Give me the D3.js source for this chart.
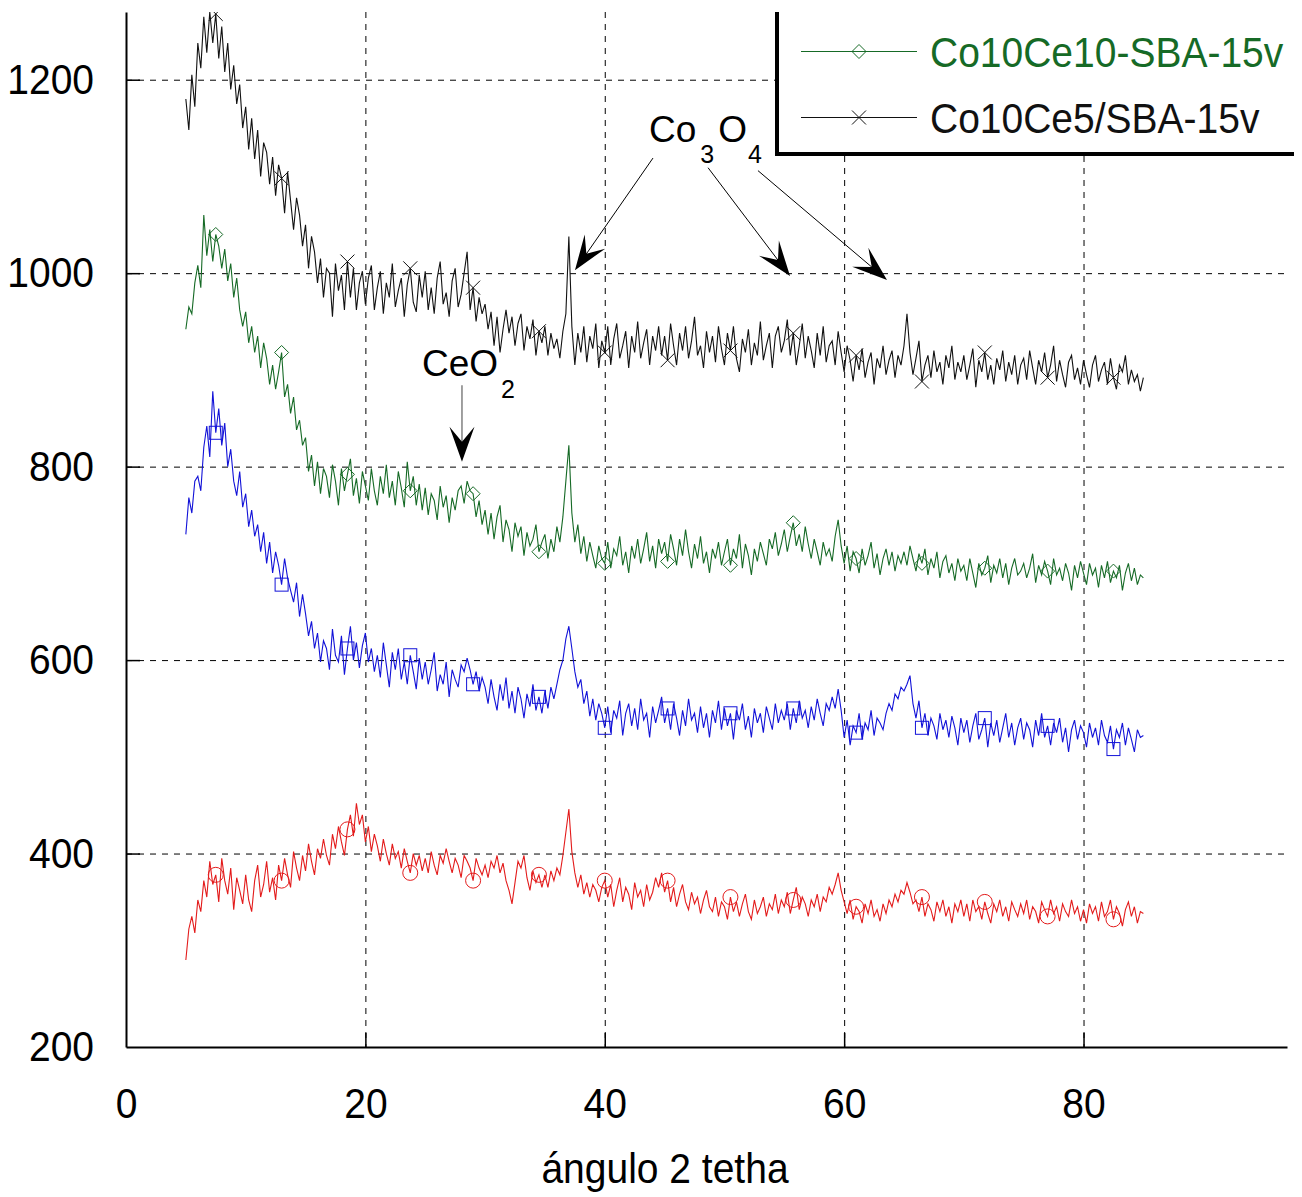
<!DOCTYPE html>
<html><head><meta charset="utf-8">
<script src="https://cdn.jsdelivr.net/npm/d3@7"></script>
<style>body{margin:0;background:#fff}svg{display:block}text{font-family:"Liberation Sans",Arial,sans-serif}</style>
</head><body>
<svg id="c" width="1302" height="1197"></svg>
<script>
// sampling of the 2-theta axis
const angleStart = 5, angleStep = 0.25;
const xTicks = [0, 20, 40, 60, 80];
const yTicks = [200, 400, 600, 800, 1000, 1200];
const legendLabels = ["Co10Ce10-SBA-15v", "Co10Ce5/SBA-15v"];
const markerAngles = [7.6, 13.0, 18.4, 23.8, 29.1, 34.5, 39.9, 45.2, 50.5, 55.8, 61.1, 66.4, 71.8, 77.1, 82.5];

const black = [
1180,1148,1205,1172,1238,1212,1265,1228,1270,1238,1268,1222,1255,1208,1238,1190,1215,1175,1195,1150,
1172,1128,1160,1118,1148,1100,1135,1125,1092,1120,1080,1112,1098,1062,1105,1075,1045,1078,1060,1028,
1050,1005,1038,1022,990,1015,975,1005,1000,955,1010,982,998,962,1012,975,1005,962,990,1002,
968,995,1008,962,985,1002,958,990,975,1010,965,982,995,955,988,1005,970,960,998,975,
1002,962,985,958,995,1012,968,980,955,992,1005,965,978,1000,1022,962,985,950,975,958,
968,942,960,925,955,918,942,962,938,955,925,948,958,920,945,932,952,915,940,928,
945,915,938,922,932,912,940,958,1038,945,905,938,918,945,908,935,922,948,902,930,
918,945,905,932,948,912,925,940,902,935,918,950,912,928,942,905,935,920,945,915,
935,910,948,925,905,938,920,945,912,930,955,915,925,902,940,918,935,908,945,922,
905,938,920,945,912,898,932,918,942,905,928,915,950,910,925,938,902,935,945,918,
930,952,915,938,905,925,948,912,935,920,902,938,915,945,908,925,930,905,940,918,
898,925,910,888,915,900,922,892,908,918,885,912,902,925,895,910,920,892,915,905,
925,958,918,895,912,930,888,905,915,892,920,898,908,885,915,902,925,890,908,898,
915,890,905,922,882,910,898,918,890,905,885,912,900,920,888,908,895,915,885,905,
912,890,920,902,885,910,898,918,892,905,925,888,910,895,882,908,915,890,902,885,
910,895,882,905,915,888,900,908,885,912,892,880,905,898,915,885,900,888,895,878,
892];

const green = [
942,965,958,990,1008,985,1060,1018,1045,1012,1040,1028,1005,1025,992,1010,975,995,962,945,
960,928,945,918,935,902,928,912,885,905,880,898,918,872,885,855,872,838,848,822,
830,795,812,780,805,772,798,790,768,802,785,760,798,775,792,808,770,788,762,795,
780,765,798,775,760,790,772,802,768,785,760,795,778,758,805,775,790,760,782,755,
778,750,772,765,745,780,758,770,742,768,755,775,780,762,785,775,772,748,765,740,
755,730,752,725,748,760,722,745,735,712,742,728,738,708,732,718,725,740,712,722,
730,705,725,712,738,722,748,785,822,752,722,740,710,728,702,722,708,695,718,705,
700,722,695,715,708,728,698,712,690,718,705,725,700,715,732,702,718,695,725,710,
722,702,730,715,698,725,708,735,712,695,720,705,728,700,712,690,715,705,722,698,
712,725,698,715,705,730,695,720,708,688,715,702,722,710,698,725,715,732,708,720,
735,712,728,742,718,730,712,738,720,705,725,712,698,722,708,715,702,728,745,718,
700,718,692,712,705,690,715,698,708,722,695,710,688,705,715,698,712,692,708,700,
712,698,718,705,692,710,700,715,688,705,695,712,685,702,708,690,700,682,705,692,
698,682,705,690,675,700,688,695,708,680,698,690,705,685,700,678,695,705,688,692,
700,685,695,710,680,698,688,702,692,678,705,688,695,682,700,690,672,698,685,702,
690,678,700,688,695,675,698,685,702,680,692,685,698,672,690,700,682,695,678,688,
685];

const blue = [
730,768,752,785,790,775,820,842,810,878,835,860,822,845,800,818,785,770,795,758,
772,738,755,728,740,712,732,700,722,690,712,698,678,705,685,672,660,680,645,668,
648,625,640,612,628,598,620,612,590,632,605,598,625,585,612,635,600,618,592,615,
628,598,612,588,605,582,618,595,572,608,590,612,580,598,575,605,588,570,602,580,
598,575,590,608,568,585,575,598,562,590,580,572,595,588,602,590,575,588,568,582,
572,555,580,562,548,575,558,582,550,568,545,572,560,540,565,552,575,548,562,545,
568,550,572,560,575,590,600,622,635,612,588,572,580,555,568,542,560,538,555,545,
530,552,525,548,540,558,522,545,555,532,550,528,560,538,545,520,552,535,548,562,
535,550,528,555,540,522,548,532,560,538,545,525,552,530,545,520,548,535,558,528,
550,532,545,518,548,538,555,528,542,520,550,535,545,525,552,540,528,555,535,548,
538,555,528,550,535,558,540,548,530,552,538,560,545,532,555,548,562,550,570,548,
520,538,512,532,525,545,518,535,528,548,522,540,535,528,545,555,548,565,560,572,
568,575,584,555,540,558,530,545,522,540,532,518,545,528,538,520,542,530,512,540,
525,538,515,532,545,518,528,540,510,535,522,538,515,530,545,520,535,512,530,540,
518,535,528,510,538,522,545,520,532,512,535,525,540,515,530,505,528,538,518,532,
525,510,535,520,530,512,538,522,515,532,508,528,520,535,512,530,518,505,528,520,
522];

const red = [
290,322,335,318,352,340,372,355,392,368,378,350,395,372,358,385,342,375,362,348,
378,352,340,372,388,355,368,392,360,375,352,388,372,395,378,365,402,385,372,398,
382,410,392,378,405,395,415,398,388,420,405,428,412,398,425,440,418,452,430,440,
412,428,402,420,408,392,415,400,388,410,395,402,385,405,392,380,400,388,398,382,
395,380,402,388,378,398,390,405,392,380,395,388,375,398,392,385,372,395,385,378,
388,375,392,385,398,380,390,372,362,348,370,392,385,398,375,362,382,370,378,365,
378,365,382,372,385,378,398,422,446,402,380,365,378,358,370,355,368,362,350,365,
372,355,368,345,362,375,350,365,358,342,370,355,362,345,368,352,360,375,365,380,
360,372,350,365,345,358,368,350,342,360,348,355,338,352,362,345,340,355,335,350,
345,332,355,340,350,335,348,358,340,332,352,338,345,355,335,348,342,358,338,352,
345,360,338,352,365,342,355,348,335,352,345,358,340,355,350,365,358,368,380,362,
350,338,352,332,345,340,328,348,338,352,335,342,330,348,338,352,345,358,350,362,
358,370,360,348,352,340,355,335,348,342,330,350,340,352,335,345,328,348,340,352,
335,348,330,352,340,345,332,350,338,328,348,340,352,335,345,330,350,342,335,348,
338,352,332,345,340,328,350,342,335,352,338,345,330,348,340,335,352,338,345,330,
342,328,348,338,345,330,350,335,340,352,332,345,338,325,342,350,335,345,328,340,
338];

const COL = {green:"#166a26", black:"#111111", blue:"#1212d8", red:"#e31b1b"};
const series = [
  {values: red,   color: COL.red,   marker: "circle"},
  {values: blue,  color: COL.blue,  marker: "square"},
  {values: green, color: COL.green, marker: "diamond"},
  {values: black, color: COL.black, marker: "x"}
];

const svg = d3.select("#c");
const x = d3.scaleLinear().domain([0, 97]).range([126, 1287]);
const y = d3.scaleLinear().domain([200, 1270]).range([1047, 12]);
const FS = 39, SY = 1.08;

svg.append("defs").append("clipPath").attr("id","plot")
  .append("rect").attr("x", x(0)).attr("y", y(1270)).attr("width", x(97)-x(0)).attr("height", y(200)-y(1270));

// grid
const grid = svg.append("g").attr("stroke","#000").attr("stroke-width",1).attr("stroke-dasharray","6,6");
grid.selectAll("line.h").data(yTicks.filter(d=>d>200)).join("line")
  .attr("x1", x(0)).attr("x2", x(97)).attr("y1", d=>y(d)+0.5).attr("y2", d=>y(d)+0.5);
grid.selectAll("line.v").data(xTicks.filter(d=>d>0)).join("line")
  .attr("x1", d=>x(d)+0.5).attr("x2", d=>x(d)+0.5).attr("y1", y(1270)).attr("y2", y(200));

// series
const angleOf = i => angleStart + i*angleStep;
const line = d3.line().x((d,i)=>x(angleOf(i))).y(d=>y(d));
const plot = svg.append("g").attr("clip-path","url(#plot)");
series.forEach(s => {
  plot.append("path").attr("d", line(s.values)).attr("fill","none")
    .attr("stroke", s.color).attr("stroke-width",1.1).attr("stroke-linejoin","miter");
});

function drawMarker(g, type, cx, cy, color) {
  if (type === "circle") g.append("circle").attr("cx",cx).attr("cy",cy).attr("r",7.5).attr("fill","none").attr("stroke",color).attr("stroke-width",1);
  else if (type === "square") g.append("rect").attr("x",cx-6.5).attr("y",cy-6.5).attr("width",13).attr("height",13).attr("fill","none").attr("stroke",color).attr("stroke-width",1);
  else if (type === "diamond") g.append("path").attr("d",`M${cx},${cy-7}L${cx+7},${cy}L${cx},${cy+7}L${cx-7},${cy}Z`).attr("fill","none").attr("stroke",color).attr("stroke-width",1);
  else g.append("path").attr("d",`M${cx-7},${cy-7}L${cx+7},${cy+7}M${cx-7},${cy+7}L${cx+7},${cy-7}`).attr("fill","none").attr("stroke",color).attr("stroke-width",1);
}
series.forEach(s => {
  markerAngles.forEach(a => {
    const i = Math.round((a - angleStart)/angleStep);
    drawMarker(plot, s.marker, x(angleOf(i)), y(s.values[i]), s.color);
  });
});

// axes
const ya = svg.append("g").attr("transform",`translate(${x(0)},0)`)
  .call(d3.axisLeft(y).tickValues(yTicks).tickSizeInner(-14).tickSizeOuter(0).tickPadding(32).tickFormat(d3.format("d")));
const xa = svg.append("g").attr("transform",`translate(0,${y(200)})`)
  .call(d3.axisBottom(x).tickValues(xTicks).tickSizeInner(-14).tickSizeOuter(0).tickPadding(38).tickFormat(d3.format("d")));
[ya, xa].forEach(a => {
  a.select(".domain").attr("stroke","#000").attr("stroke-width",2);
  a.selectAll(".tick line").attr("stroke","#000").attr("stroke-width",1.5);
  a.selectAll(".tick text").attr("fill","#000").style("font-size", FS+"px").attr("transform",`scale(1,${SY})`);
});
ya.selectAll(".tick").filter(d=>d===200).select("line").remove();
xa.selectAll(".tick").filter(d=>d===0).select("line").remove();

// axis title
svg.append("text").attr("transform",`translate(665,1183) scale(1,${SY})`).attr("text-anchor","middle")
  .style("font-size",FS+"px").attr("fill","#000").text("ángulo 2 tetha");

// annotations (positions in data units)
function arrowHead(tx, ty, ux, uy, L, Wd, notch) {
  const px = -uy, py = ux;
  const bx = tx - ux*L, by = ty - uy*L;
  const nx = tx - ux*notch, ny = ty - uy*notch;
  return `M${tx},${ty}L${bx+px*Wd},${by+py*Wd}L${nx},${ny}L${bx-px*Wd},${by-py*Wd}Z`;
}
function arrow(a0, v0, a1, v1, color, sw) {
  const x0 = x(a0), y0 = y(v0), x1 = x(a1), y1 = y(v1);
  const dx = x1-x0, dy = y1-y0, len = Math.hypot(dx,dy), ux = dx/len, uy = dy/len;
  svg.append("line").attr("x1",x0).attr("y1",y0).attr("x2",x1-ux*18).attr("y2",y1-uy*18)
    .attr("stroke",color).attr("stroke-width",sw);
  svg.append("path").attr("d", arrowHead(x1,y1,ux,uy,35,12.5,20)).attr("fill","#000");
}
const coArrows = [[44.03,1119,37.51,1003],[48.63,1109,55.48,997],[52.80,1106,63.58,993]];
coArrows.forEach(a => arrow(a[0],a[1],a[2],a[3],"#000",1));
arrow(28.07,884,28.07,805,"#808080",1.5);

const co = svg.append("text").attr("x", x(43.7)).attr("y", y(1135.6)).style("font-size","37px").attr("fill","#000");
co.append("tspan").text("Co");
co.append("tspan").attr("dx",4).attr("dy",21).style("font-size","25px").text("3");
co.append("tspan").attr("dx",4).attr("dy",-21).text("O");
co.append("tspan").attr("dx",1).attr("dy",21).style("font-size","25px").text("4");
const ce = svg.append("text").attr("x", x(24.73)).attr("y", y(893.7)).style("font-size","37px").attr("fill","#000");
ce.append("tspan").text("CeO");
ce.append("tspan").attr("dx",3).attr("dy",22).style("font-size","25px").text("2");

// legend
const lg = svg.append("g");
lg.append("rect").attr("x",777).attr("y",12).attr("width",520).attr("height",142).attr("fill","#fff");
lg.append("line").attr("x1",777).attr("x2",777).attr("y1",12).attr("y2",156).attr("stroke","#000").attr("stroke-width",4);
lg.append("line").attr("x1",775).attr("x2",1294).attr("y1",154).attr("y2",154).attr("stroke","#000").attr("stroke-width",4);
const legendItems = [{label: legendLabels[0], color: COL.green, marker: "diamond", cy: 51},
                     {label: legendLabels[1], color: COL.black, marker: "x", cy: 117}];
legendItems.forEach(it => {
  lg.append("line").attr("x1",801).attr("x2",917).attr("y1",it.cy+0.5).attr("y2",it.cy+0.5).attr("stroke",it.color).attr("stroke-width",1);
  drawMarker(lg, it.marker, 859, it.cy+0.5, it.color);
  lg.append("text").attr("transform",`translate(930,${it.cy+16}) scale(1,${SY})`).style("font-size",FS+"px")
    .attr("fill",it.color).text(it.label);
});
</script>
</body></html>
